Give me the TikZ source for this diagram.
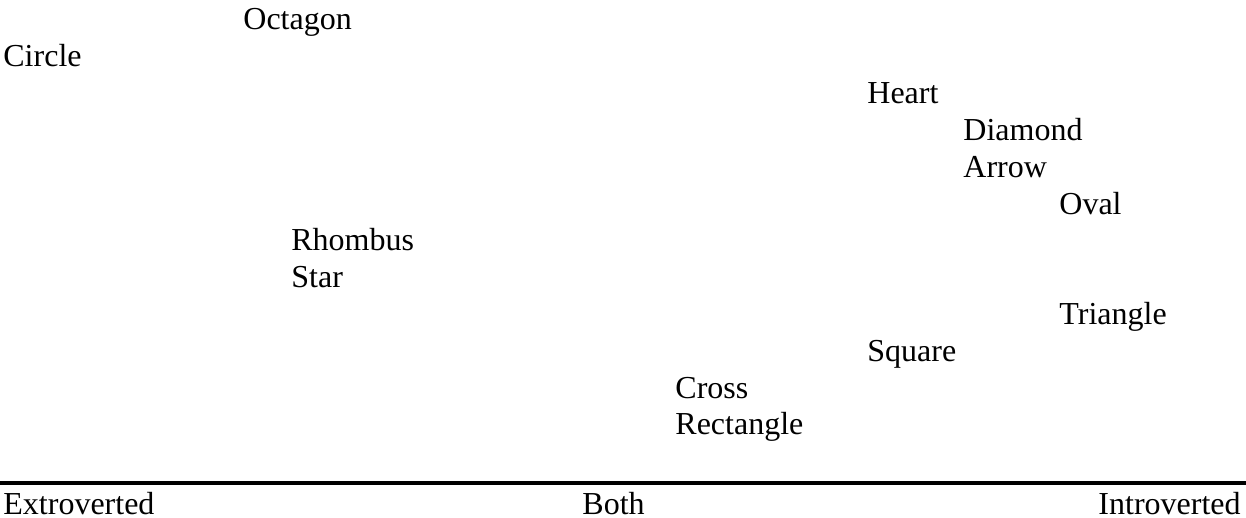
\documentclass[tikz,border=0pt]{standalone}
\usepackage{fontspec}
\setmainfont{Liberation Serif}
\newfontfamily\policetimes{Liberation Serif}
\begin{document}
\begin{tikzpicture}[x=0.5pt,y=-0.5pt,
    etiquette/.style={inner sep=0pt, anchor=base west, font=\policetimes\fontsize{16}{19}\selectfont}]
    % Dimensions de la page
    \pgfmathsetmacro{\largeur}{1246}
    \pgfmathsetmacro{\hauteur}{518}
    \useasboundingbox (0,0) rectangle (\largeur,\hauteur);

    % Tabulation et interligne
    \pgfmathsetmacro{\pastab}{48}
    \pgfmathsetmacro{\interligne}{36.8}

    % Placer les formes (nom/tabulation/ligne)
    \foreach \forme/\colonne/\ligne in {Octagon/5/1, Circle/0/2, Heart/18/3, Diamond/20/4,
        Arrow/20/5, Oval/22/6, Rhombus/6/7, Star/6/8, Triangle/22/9, Square/18/10,
        Cross/14/11, Rectangle/14/12} {
        \node[etiquette] (\forme) at ({3+\colonne*\pastab},{30+(\ligne-1)*\interligne}) {\forme};
    }

    % Trait de separation
    \coordinate (gauche) at (0,483);
    \coordinate (droite) at (\largeur,483);
    \draw[line width=2pt] (gauche) -- (droite);

    % Axe en bas
    \node[etiquette] (extro) at (3,514) {Extroverted};
    \node[etiquette] (both) at (582,514) {Both};
    \node[etiquette, anchor=base east] (intro) at (1241,514) {Introverted};
\end{tikzpicture}
\end{document}
